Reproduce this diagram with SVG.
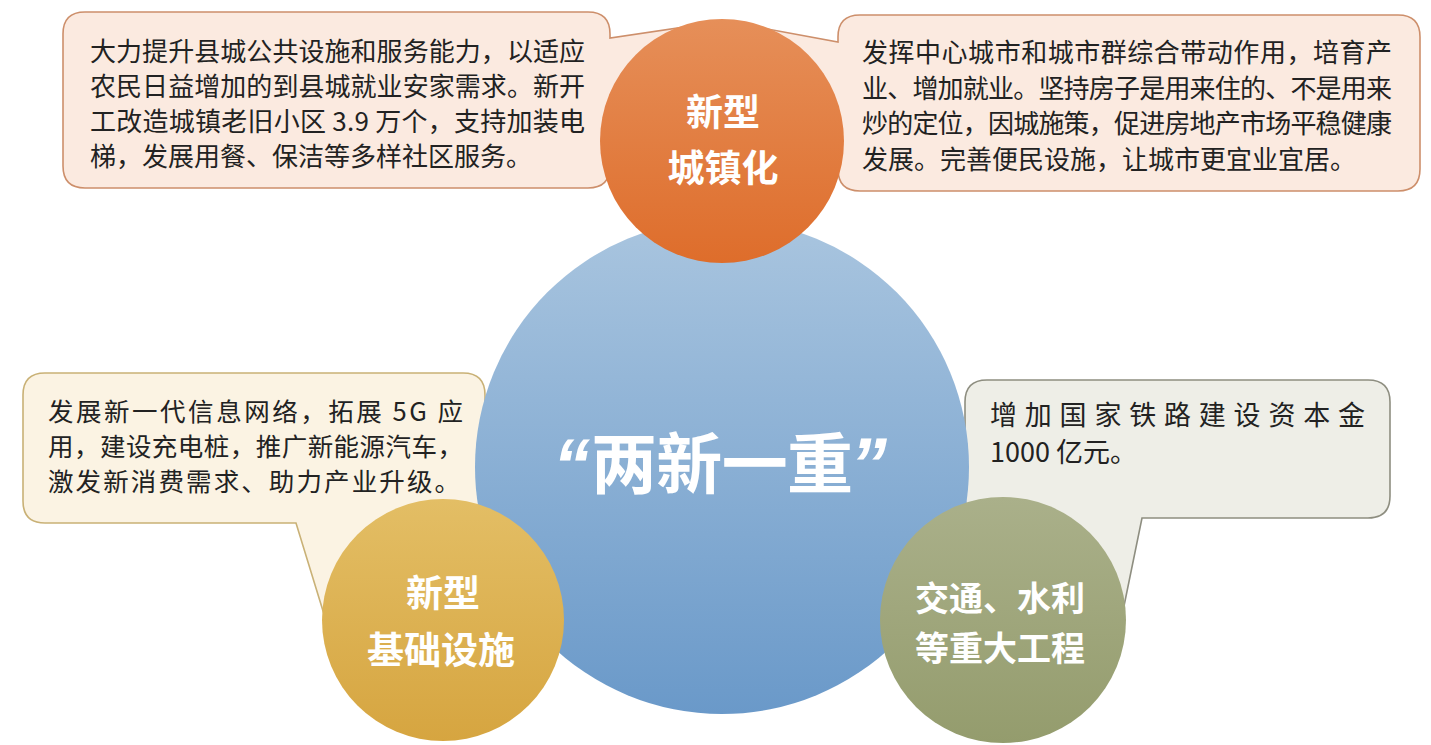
<svg xmlns="http://www.w3.org/2000/svg" width="1431" height="745" viewBox="0 0 1431 745">
<defs>
<linearGradient id="gBlue" x1="0" y1="0" x2="0" y2="1"><stop offset="0" stop-color="#A9C5DF"/><stop offset="1" stop-color="#6A99C9"/></linearGradient>
<linearGradient id="gOrange" x1="0" y1="0" x2="0" y2="1"><stop offset="0" stop-color="#E68F59"/><stop offset="1" stop-color="#DE6D2B"/></linearGradient>
<linearGradient id="gGold" x1="0" y1="0" x2="0" y2="1"><stop offset="0" stop-color="#E3BE65"/><stop offset="1" stop-color="#D6A540"/></linearGradient>
<linearGradient id="gGreen" x1="0" y1="0" x2="0" y2="1"><stop offset="0" stop-color="#AAB08A"/><stop offset="1" stop-color="#949C6D"/></linearGradient>
</defs>
<style>
.body{font-family:"Noto Sans CJK SC","Noto Sans",sans-serif;font-size:26px;fill:#222;}
.lbl{font-family:"Noto Sans CJK SC","Noto Sans",sans-serif;font-size:37px;font-weight:700;fill:#fff;text-anchor:middle;}
.peach{fill:#FBEAE0;stroke:#CD8F6B;stroke-width:1.6;}
.cream{fill:#FBF3E3;stroke:#C9B176;stroke-width:1.6;}
.grey{fill:#EEEEE7;stroke:#8E8E80;stroke-width:1.6;}
</style>
<rect width="1431" height="745" fill="#fff"/>
<g id="connectors"/>
<g id="callout-tl">
<path class="peach" d="M85,12 H588 Q610,12 610,34 V38 L705,24 L610,120 V166 Q610,188 588,188 H85 Q63,188 63,166 V34 Q63,12 85,12 Z"/>
<text class="body" x="90" y="61" textLength="495" lengthAdjust="spacing">大力提升县城公共设施和服务能力，以适应</text>
<text class="body" x="90" y="96" textLength="495" lengthAdjust="spacing">农民日益增加的到县城就业安家需求。新开</text>
<text class="body" x="90" y="131" textLength="495" lengthAdjust="spacing">工改造城镇老旧小区 3.9 万个，支持加装电</text>
<text class="body" x="90" y="166">梯，发展用餐、保洁等多样社区服务。</text>
</g>
<g id="callout-tr">
<path class="peach" d="M860,15 H1398 Q1420,15 1420,37 V169 Q1420,191 1398,191 H860 Q838,191 838,169 V120 L740,24 L838,42 V37 Q838,15 860,15 Z"/>
<text class="body" x="862" y="62" textLength="530" lengthAdjust="spacing">发挥中心城市和城市群综合带动作用，培育产</text>
<text class="body" x="862" y="98" textLength="530" lengthAdjust="spacing">业、增加就业。坚持房子是用来住的、不是用来</text>
<text class="body" x="862" y="133" textLength="530" lengthAdjust="spacing">炒的定位，因城施策，促进房地产市场平稳健康</text>
<text class="body" x="862" y="169">发展。完善便民设施，让城市更宜业宜居。</text>
</g>
<g id="callout-l">
<path class="cream" d="M45,373 H463 Q485,373 485,395 V501 Q485,523 463,523 H410 L335,650 L296,523 H45 Q23,523 23,501 V395 Q23,373 45,373 Z"/>
<text class="body" x="48" y="421" style="font-size:25.5px" textLength="415" lengthAdjust="spacing">发展新一代信息网络，拓展 5G 应</text>
<text class="body" x="48" y="456" style="font-size:25.5px" textLength="415" lengthAdjust="spacing">用，建设充电桩，推广新能源汽车，</text>
<text class="body" x="48" y="491" style="font-size:25.5px" textLength="412" lengthAdjust="spacing">激发新消费需求、助力产业升级。</text>
</g>
<g id="callout-r">
<path class="grey" d="M987,380 H1368 Q1390,380 1390,402 V496 Q1390,518 1368,518 H1142 L1115,650 L1050,518 H987 Q965,518 965,496 V402 Q965,380 987,380 Z"/>
<text class="body" x="990" y="425" style="font-size:27px" textLength="375" lengthAdjust="spacing">增加国家铁路建设资本金</text>
<text class="body" x="990" y="462" style="font-size:27px">1000 亿元。</text>
</g>
<g id="center">
<circle cx="722" cy="467" r="247" fill="url(#gBlue)"/>
<text x="722" y="488" style="font-family:'Noto Sans CJK SC','Noto Sans',sans-serif;font-size:66px;font-weight:700;fill:#fff;text-anchor:middle" textLength="262" lengthAdjust="spacing">两新一重</text>
<text x="553" y="490" style="font-family:'Liberation Sans',Arial,sans-serif;font-size:74px;font-weight:700;font-style:italic;fill:#fff">“</text>
<text x="887" y="490" style="font-family:'Liberation Sans',Arial,sans-serif;font-size:74px;font-weight:700;font-style:italic;fill:#fff;text-anchor:end">”</text>
</g>
<g id="node-urban">
<circle cx="722" cy="141" r="122" fill="url(#gOrange)"/>
<text class="lbl" x="723" y="126">新型</text>
<text class="lbl" x="723" y="182">城镇化</text>
</g>
<g id="node-infra">
<circle cx="443" cy="620" r="121" fill="url(#gGold)"/>
<text class="lbl" x="443" y="607">新型</text>
<text class="lbl" x="441" y="664">基础设施</text>
</g>
<g id="node-major">
<circle cx="1003" cy="620" r="123" fill="url(#gGreen)"/>
<text class="lbl" x="1000" y="611" style="font-size:34px">交通、水利</text>
<text class="lbl" x="1000" y="661" style="font-size:34px">等重大工程</text>
</g>
</svg>
